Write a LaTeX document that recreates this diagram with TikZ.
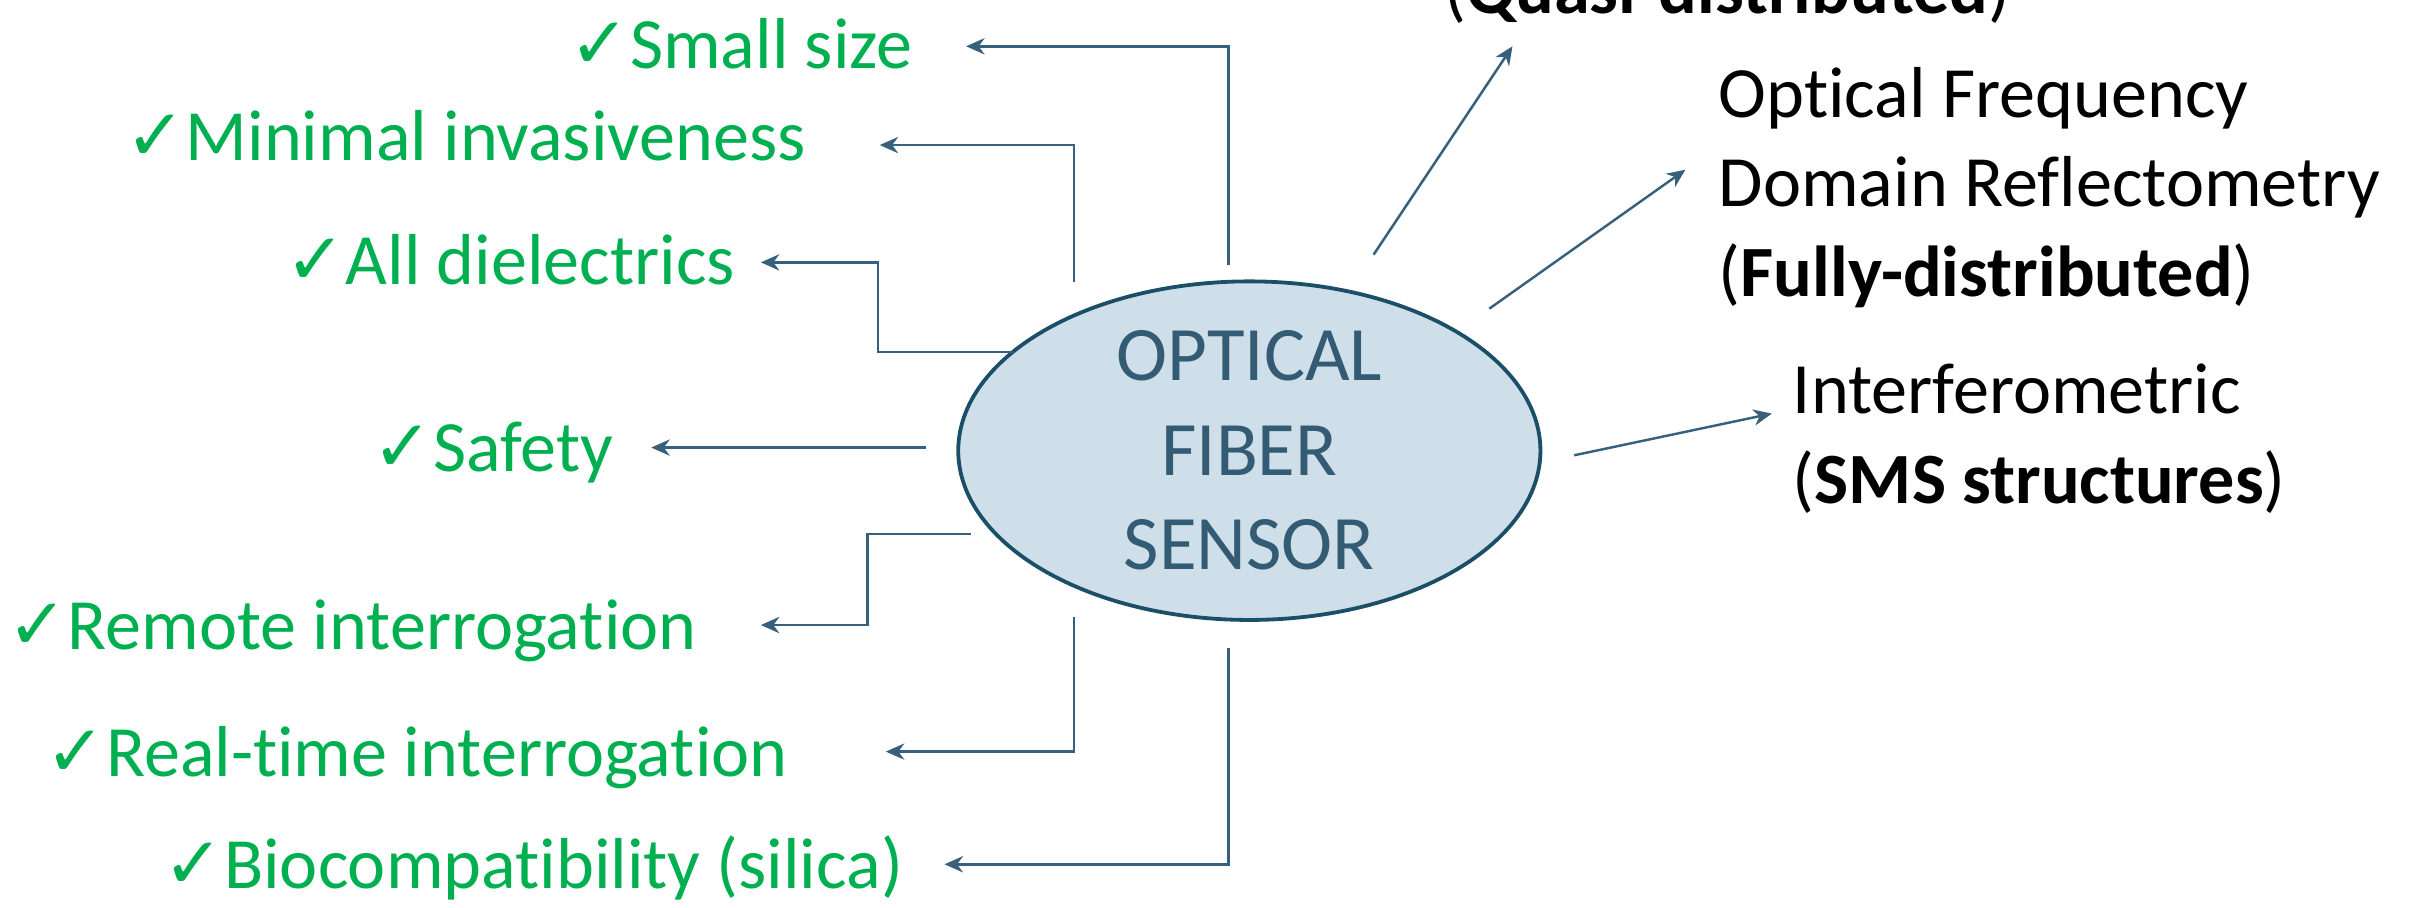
\documentclass[tikz,border=0pt]{standalone}
\usepackage{fontspec}
\setmainfont{Carlito}[Ligatures=NoCommon]
\newfontfamily\tickfont{DejaVu Sans}
\usetikzlibrary{arrows.meta,shapes.geometric,positioning}
\definecolor{okgreen}{HTML}{00B050}
\definecolor{linkblue}{HTML}{37607C}
\definecolor{sensorfill}{HTML}{CFDFEA}
\definecolor{sensordraw}{HTML}{1B4F68}
\definecolor{sensortext}{HTML}{335B74}
\newcommand{\tick}{{\tickfont ✓}}
\tikzset{
  sensor/.style={
    shape = ellipse,
    draw = sensordraw,
    line width = 0.7pt,
    fill = sensorfill,
    minimum width = 3.77cm,
    minimum height = 1.84cm,
    inner sep = 0pt,
    align = center,
    text = sensortext,
    font = \fontsize{14.2}{17.4}\selectfont
  },
  adv/.style={
    anchor = east,
    text = okgreen,
    inner ysep = 0pt,
    text height = 9pt,
    text depth = 0pt,
    font = \fontsize{13.3}{16}\selectfont
  },
  method/.style={
    anchor = base west,
    align = left,
    inner sep = 0pt,
    font = \fontsize{13.3}{16.5}\selectfont
  },
  link/.style={
    draw = linkblue,
    line width = 0.45pt,
    -{Stealth[length=3.4pt,width=3pt]}
  }
}

\begin{document}
\begin{tikzpicture}[x=0.01cm, y=-0.01cm]
    \useasboundingbox (0,0) rectangle (1568,588);
    \node[sensor] (sensor) at (809.5,292) {OPTICAL\\FIBER\\SENSOR};
    % advantages, left side
    \node[adv, inner xsep=0.34cm, text depth=1pt] (small) at (626,30) {\tick Small size};
    \node[adv, inner xsep=0.47cm, text depth=3.4pt] (minimal) at (570,94) {\tick Minimal invasiveness};
    \node[adv, inner xsep=0.16cm, text depth=1pt] (diel) at (493,170) {\tick All dielectrics};
    \node[adv, inner xsep=0.24cm] (safety) at (422,290) {\tick Safety};
    \node[adv, inner xsep=0.41cm] (remote) at (493,405) {\tick Remote interrogation};
    \node[adv, inner xsep=0.63cm] (realtime) at (574,487) {\tick Real-time interrogation};
    \node[adv, inner xsep=0.26cm] (biocomp) at (612,560) {\tick Biocompatibility (silica)};
    \coordinate (sSmall) at (796,172);
    \coordinate (sMinimal) at (696,183);
    \coordinate (sDiel) at (657,228);
    \coordinate (sSafety) at (600,290);
    \coordinate (sRemote) at (629,346);
    \coordinate (sRealtime) at (696,400);
    \coordinate (sBiocomp) at (796,420);
    \draw[link] (sSmall) |- (small);
    \draw[link] (sMinimal) |- (minimal);
    \draw[link] (sDiel) -- ++(-88,0) |- (diel);
    \draw[link] (sSafety) -- (safety);
    \draw[link] (sRemote) -- ++(-67,0) |- (remote);
    \draw[link] (sRealtime) |- (realtime);
    \draw[link] (sBiocomp) |- (biocomp);
    % methods, right side (base = last line)
    \node[method] (quasi) at (935,9) {(\textbf{Quasi-distributed})};
    \node[method] (ofdr) at (1113,192) {Optical Frequency\\Domain Reflectometry\\(\textbf{Fully-distributed})};
    \node[method] (interf) at (1161,326) {Interferometric\\(\textbf{SMS structures})};
    \coordinate (sQuasi) at (890,165);
    \coordinate (tQuasi) at (980,30);
    \coordinate (sOfdr) at (965,200);
    \coordinate (tOfdr) at (1092,110);
    \coordinate (sInterf) at (1020,295);
    \coordinate (tInterf) at (1148,268);
    \draw[link] (sQuasi) -- (tQuasi);
    \draw[link] (sOfdr) -- (tOfdr);
    \draw[link] (sInterf) -- (tInterf);
\end{tikzpicture}
\end{document}
